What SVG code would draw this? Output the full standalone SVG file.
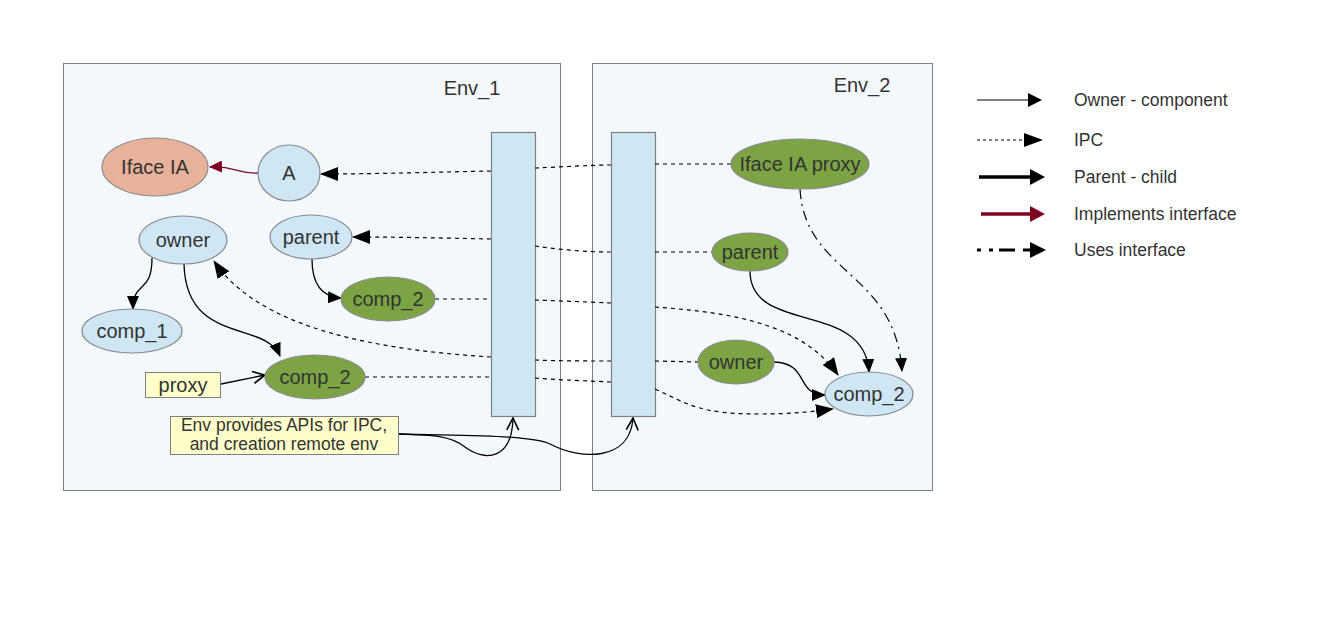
<svg xmlns="http://www.w3.org/2000/svg" width="1323" height="630" viewBox="0 0 1323 630">
<style>
.env{fill:#f3f8fc;stroke:#808080;stroke-width:1}
.bar{fill:#cfe6f4;stroke:#808080;stroke-width:1.2}
.lb{fill:#cfe6f4;stroke:#8a8a8a;stroke-width:1.2}
.gr{fill:#7ca445;stroke:#8a8a8a;stroke-width:1.2}
.sal{fill:#e8b29a;stroke:#8a8a8a;stroke-width:1.2}
.note{fill:#ffffcc;stroke:#808080;stroke-width:1}
.t{font-family:"Liberation Sans",Arial,sans-serif;font-size:20px;fill:#333333;text-anchor:middle}
.tl{font-family:"Liberation Sans",Arial,sans-serif;font-size:17.5px;fill:#333333}
.tn{font-family:"Liberation Sans",Arial,sans-serif;font-size:17.5px;fill:#333333;text-anchor:middle}
.solid{fill:none;stroke:#000;stroke-width:1.3}
.ipc{fill:none;stroke:#000;stroke-width:1.2;stroke-dasharray:4,4}
.uses{fill:none;stroke:#000;stroke-width:1.2;stroke-dasharray:10,5,2,5}
.impl{fill:none;stroke:#800020;stroke-width:1.3}
</style>
<defs>
<marker id="ah" markerUnits="userSpaceOnUse" markerWidth="18" markerHeight="14" refX="17" refY="7" orient="auto" viewBox="0 0 18 14">
<path d="M0,0 L18,7 L0,14 z" fill="#000"/>
</marker>
<marker id="ahs" markerUnits="userSpaceOnUse" markerWidth="14" markerHeight="12" refX="13" refY="6" orient="auto" viewBox="0 0 14 12">
<path d="M0,0 L14,6 L0,12 z" fill="#000"/>
</marker>
<marker id="ahr" markerUnits="userSpaceOnUse" markerWidth="13" markerHeight="12" refX="12" refY="6" orient="auto" viewBox="0 0 13 12">
<path d="M0,0 L13,6 L0,12 z" fill="#800020"/>
</marker>
<marker id="open" markerUnits="userSpaceOnUse" markerWidth="14" markerHeight="14" refX="13" refY="7" orient="auto" viewBox="0 0 14 14">
<path d="M1,1 L13,7 L1,13" fill="none" stroke="#000" stroke-width="1.6"/>
</marker>
</defs>

<g id="env1">
<rect class="env" x="63.5" y="63.5" width="497" height="427"/>
<text class="t" x="472" y="95">Env_1</text>
</g>
<g id="env2">
<rect class="env" x="592.5" y="63.5" width="340" height="427"/>
<text class="t" x="862" y="92">Env_2</text>
</g>
<g id="bar1"><rect class="bar" x="491.5" y="132.5" width="44" height="284"/></g>
<g id="bar2"><rect class="bar" x="611.5" y="132.5" width="44" height="284"/></g>

<g id="connectors">
<path class="impl" d="M258,173 C238,174 236,166 210,167" marker-end="url(#ahr)"/>
<path class="ipc" d="M491,171 C440,172 380,174 321,174" marker-end="url(#ah)"/>
<path class="ipc" d="M535,168 C560,167 590,165 611,165"/>
<path class="ipc" d="M655,164 L731,164"/>
<path class="ipc" d="M491,239 C440,238 400,237 353,237" marker-end="url(#ah)"/>
<path class="ipc" d="M535,246 C560,250 590,252 611,252"/>
<path class="ipc" d="M655,252 L712,252"/>
<path class="solid" d="M312,259 C312,285 322,297 341,298" marker-end="url(#ahs)"/>
<path class="ipc" d="M435,299 L491,299"/>
<path class="ipc" d="M535,300 C560,301 590,302 611,303"/>
<path class="ipc" d="M655,307 C720,312 800,320 838,375" marker-end="url(#ah)"/>
<path class="solid" d="M152,258 C152,295 133,280 133,309" marker-end="url(#ahs)"/>
<path class="solid" d="M184,264 C186,345 265,320 280,356" marker-end="url(#ahs)"/>
<path class="ipc" d="M491,357 C380,350 260,330 214,261" marker-end="url(#ah)"/>
<path class="ipc" d="M535,360 C560,361 590,361 611,361"/>
<path class="ipc" d="M655,361 L698,362"/>
<path class="solid" d="M774,362 C810,363 795,395 825,395" marker-end="url(#ahs)"/>
<path class="solid" d="M221,384 L265,375" marker-end="url(#open)"/>
<path class="ipc" d="M365,377 L491,377"/>
<path class="ipc" d="M535,378 C560,380 590,381 611,382"/>
<path class="ipc" d="M655,389 C690,405 700,414 760,414 C790,414 810,412 833,409" marker-end="url(#ah)"/>
<path class="uses" d="M800,189 C805,275 895,270 902,371" marker-end="url(#ahs)"/>
<path class="solid" d="M750,271 C750,335 865,300 869,372" marker-end="url(#ahs)"/>
<path class="solid" d="M398,434 C430,435 450,435 465,447 C485,462 512,460 513,418" marker-end="url(#open)"/>
<path class="solid" d="M398,434 C470,436 530,435 550,444 C580,460 630,462 633,418" marker-end="url(#open)"/>
</g>

<g id="iface-ia"><ellipse class="sal" cx="155" cy="167" rx="53" ry="29"/><text class="t" x="155" y="174">Iface IA</text></g>
<g id="a"><ellipse class="lb" cx="289" cy="173" rx="31" ry="28"/><text class="t" x="289" y="180">A</text></g>
<g id="owner1"><ellipse class="lb" cx="183" cy="240" rx="44" ry="24"/><text class="t" x="183" y="247">owner</text></g>
<g id="parent1"><ellipse class="lb" cx="311" cy="237" rx="41" ry="22"/><text class="t" x="311" y="244">parent</text></g>
<g id="comp2a"><ellipse class="gr" cx="388" cy="299" rx="47" ry="22"/><text class="t" x="388" y="306">comp_2</text></g>
<g id="comp1"><ellipse class="lb" cx="132" cy="331" rx="50" ry="22"/><text class="t" x="132" y="338">comp_1</text></g>
<g id="comp2b"><ellipse class="gr" cx="315" cy="377" rx="50" ry="22"/><text class="t" x="315" y="384">comp_2</text></g>
<g id="proxy"><rect class="note" x="145.5" y="372.5" width="75" height="25"/><text class="t" x="183" y="392">proxy</text></g>
<g id="env-note"><rect class="note" x="170.5" y="416.5" width="228" height="38"/>
<text class="tn" x="284" y="431">Env provides APIs for IPC,</text>
<text class="tn" x="284" y="450">and creation remote env</text></g>
<g id="iface-proxy"><ellipse class="gr" cx="800" cy="164" rx="69" ry="25"/><text class="t" x="800" y="171">Iface IA proxy</text></g>
<g id="parent2"><ellipse class="gr" cx="750" cy="252" rx="38" ry="19"/><text class="t" x="750" y="259">parent</text></g>
<g id="owner2"><ellipse class="gr" cx="736" cy="362" rx="38" ry="22"/><text class="t" x="736" y="369">owner</text></g>
<g id="comp2c"><ellipse class="lb" cx="869" cy="394" rx="44" ry="22"/><text class="t" x="869" y="401">comp_2</text></g>

<g id="legend">
<line x1="977" y1="100" x2="1028" y2="100" stroke="#000" stroke-width="1"/>
<polygon points="1028,93 1042,100 1028,107" fill="#000"/>
<text class="tl" x="1074" y="106">Owner - component</text>
<line x1="977" y1="140" x2="1024" y2="140" stroke="#000" stroke-width="1" stroke-dasharray="3,3"/>
<polygon points="1024,133 1043,140 1024,147" fill="#000"/>
<text class="tl" x="1074" y="146">IPC</text>
<line x1="979" y1="177" x2="1030" y2="177" stroke="#000" stroke-width="3.5"/>
<polygon points="1030,169 1045,177 1030,185" fill="#000"/>
<text class="tl" x="1074" y="183">Parent - child</text>
<line x1="981" y1="214" x2="1030" y2="214" stroke="#800020" stroke-width="3.5"/>
<polygon points="1030,206 1045,214 1030,222" fill="#800020"/>
<text class="tl" x="1074" y="220">Implements interface</text>
<path d="M977,250 h4 M989,250 h4 M999,250 h16 M1023,250 h9" stroke="#000" stroke-width="3.2" fill="none"/>
<polygon points="1030,242 1046,250 1030,258" fill="#000"/>
<text class="tl" x="1074" y="256">Uses interface</text>
</g>
</svg>
